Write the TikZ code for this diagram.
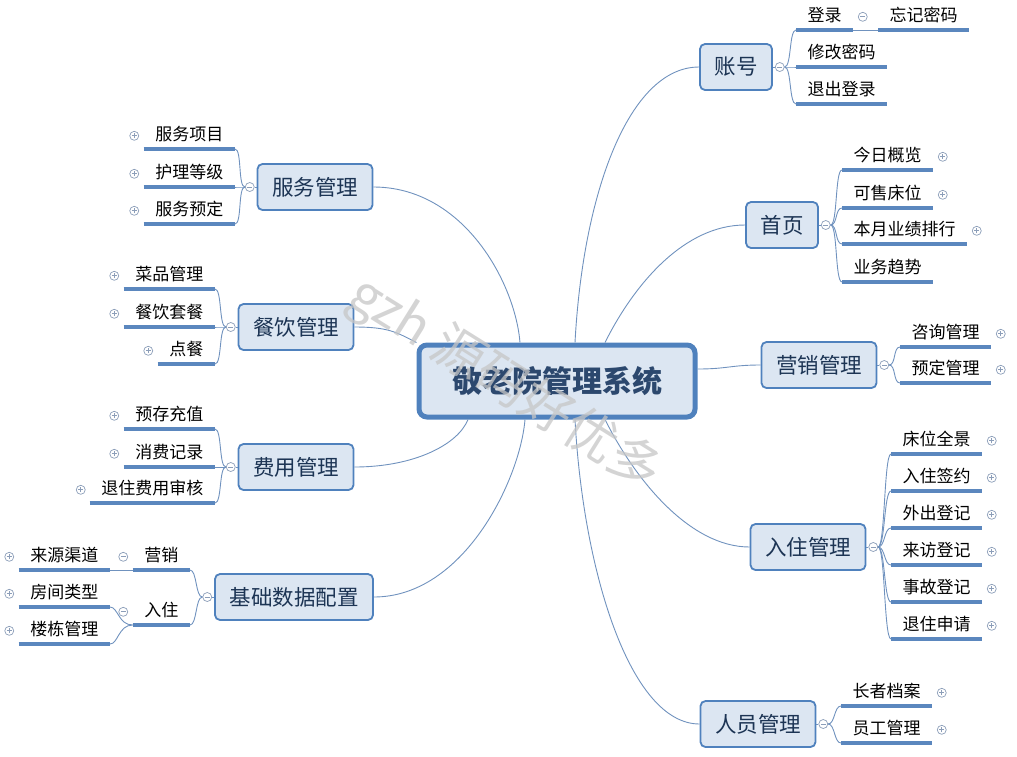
\documentclass[tikz,border=0pt]{standalone}
\usepackage{fontspec}
\newfontfamily\cjk{Noto Sans CJK SC}
\usepackage{tikz}
\usetikzlibrary{positioning}
\usepackage{xcolor}

\definecolor{boxfill}{RGB}{220,230,242}
\definecolor{boxline}{RGB}{79,129,189}
\definecolor{boxtext}{RGB}{28,52,84}
\definecolor{roottext}{RGB}{44,72,110}
\definecolor{rulec}{RGB}{91,135,190}
\definecolor{linkc}{RGB}{112,146,190}
\definecolor{foldc}{RGB}{140,158,185}

\begin{document}
\begin{tikzpicture}[x=1pt, y=-1pt,
    rootbox/.style = {rectangle, draw=boxline, fill=boxfill, line width=5pt, rounded corners=8pt, minimum width=276pt, minimum height=72pt, font=\cjk\bfseries\fontsize{30}{36}\selectfont, text=roottext},
    box/.style = {rectangle, draw=boxline, fill=boxfill, line width=1.8pt, rounded corners=5pt, minimum height=46pt, inner xsep=14.5pt, font=\cjk\fontsize{21.5}{26}\selectfont, text=boxtext},
    leaf/.style = {anchor=south west, inner xsep=11.5pt, inner ysep=5pt, text height=13pt, text depth=3pt, font=\cjk\fontsize{17}{20}\selectfont, append after command={(\tikzlastnode.south west) edge[uline] (\tikzlastnode.south east)}},
    leafl/.style = {leaf, anchor=south east},
    uline/.style = {draw=rulec, line width=3.5pt},
    conn/.style = {draw=linkc, line width=0.9pt},
    knob/.style = {circle, draw=foldc, fill=white, line width=0.7pt, minimum size=9pt, inner sep=0pt},
    fold/.style = {knob, path picture={\draw[foldc, line width=0.7pt] ([xshift=-2.4pt]path picture bounding box.center) -- ([xshift=2.4pt]path picture bounding box.center);}},
    unfold/.style = {knob, path picture={\draw[foldc, line width=0.7pt] ([xshift=-2.4pt]path picture bounding box.center) -- ([xshift=2.4pt]path picture bounding box.center) ([yshift=-2.4pt]path picture bounding box.center) -- ([yshift=2.4pt]path picture bounding box.center);}},
    wmark/.style = {font=\cjk\fontsize{52}{60}\selectfont, text=gray!45, opacity=0.75}
]
\useasboundingbox (0,0) rectangle (1017,756);

% Root Node
\node (root) [rootbox, at={(557,381)}] {敬老院管理系统};

% Branches (right)
\node (acct) [box, at={(736,67)}] {账号};
\node (home) [box, at={(782,225)}] {首页};
\node (mkt) [box, at={(819,365)}] {营销管理};
\node (stay) [box, at={(808,547)}] {入住管理};
\node (staff) [box, at={(758,724)}] {人员管理};

% Branches (left)
\node (svc) [box, at={(315,187)}] {服务管理};
\node (food) [box, at={(296,327)}] {餐饮管理};
\node (fee) [box, at={(296,467)}] {费用管理};
\node (base) [box, at={(294,597)}] {基础数据配置};

% Connections to branches
\draw [conn] ([xshift=18pt]root.north) .. controls +(8,-150) and +(-70,0) .. (acct.west);
\draw [conn] ([xshift=48pt]root.north) .. controls +(30,-60) and +(-60,0) .. (home.west);
\draw [conn] ([yshift=12pt]root.east) .. controls +(30,0) and +(-30,0) .. (mkt.west);
\draw [conn] ([xshift=48pt]root.south) .. controls +(30,60) and +(-60,0) .. (stay.west);
\draw [conn] ([xshift=18pt]root.south) .. controls +(8,150) and +(-70,0) .. (staff.west);
\draw [conn] (svc.east) .. controls +(90,0) and +(-5,-60) .. ([xshift=-37pt]root.north);
\draw [conn] (food.east) .. controls +(35,0) and +(-20,-10) .. (root.north west);
\draw [conn] (fee.east) .. controls +(60,0) and +(-10,25) .. ([xshift=-89pt]root.south);
\draw [conn] (base.east) .. controls +(90,0) and +(-5,60) .. ([xshift=-32pt]root.south);

% Fold knobs
\node (acct_k) [fold, right=2pt of acct] {};
\node (home_k) [fold, right=2pt of home] {};
\node (mkt_k) [fold, right=2pt of mkt] {};
\node (stay_k) [fold, right=2pt of stay] {};
\node (staff_k) [fold, right=2pt of staff] {};
\node (svc_k) [fold, left=2pt of svc] {};
\node (food_k) [fold, left=2pt of food] {};
\node (fee_k) [fold, left=2pt of fee] {};
\node (base_k) [fold, left=2pt of base] {};

% Account
\node (acct_a) [leaf, at={(796,30)}] {登录};
\node (acct_a_k) [fold, right=4.5pt of acct_a] {};
\node (acct_a1) [leaf, at={(878,30)}] {忘记密码};
\node (acct_b) [leaf, at={(796,67)}] {修改密码};
\node (acct_c) [leaf, at={(796,104)}] {退出登录};

% Home
\node (home_a) [leaf, at={(842,170)}] {今日概览};
\node (home_b) [leaf, at={(842,208)}] {可售床位};
\node (home_c) [leaf, at={(842,244)}] {本月业绩排行};
\node (home_d) [leaf, at={(842,282)}] {业务趋势};
\node (home_a_k) [unfold, right=4.5pt of home_a] {};
\node (home_b_k) [unfold, right=4.5pt of home_b] {};
\node (home_c_k) [unfold, right=4.5pt of home_c] {};

% Marketing
\node (mkt_a) [leaf, at={(900,347)}] {咨询管理};
\node (mkt_b) [leaf, at={(900,383)}] {预定管理};
\node (mkt_a_k) [unfold, right=4.5pt of mkt_a] {};
\node (mkt_b_k) [unfold, right=4.5pt of mkt_b] {};

% Check-in
\node (stay_a) [leaf, at={(891,454)}] {床位全景};
\node (stay_b) [leaf, at={(891,491)}] {入住签约};
\node (stay_c) [leaf, at={(891,528)}] {外出登记};
\node (stay_d) [leaf, at={(891,565)}] {来访登记};
\node (stay_e) [leaf, at={(891,602)}] {事故登记};
\node (stay_f) [leaf, at={(891,639)}] {退住申请};
\node (stay_a_k) [unfold, right=4.5pt of stay_a] {};
\node (stay_b_k) [unfold, right=4.5pt of stay_b] {};
\node (stay_c_k) [unfold, right=4.5pt of stay_c] {};
\node (stay_d_k) [unfold, right=4.5pt of stay_d] {};
\node (stay_e_k) [unfold, right=4.5pt of stay_e] {};
\node (stay_f_k) [unfold, right=4.5pt of stay_f] {};

% Staff
\node (staff_a) [leaf, at={(841,706)}] {长者档案};
\node (staff_b) [leaf, at={(841,743)}] {员工管理};
\node (staff_a_k) [unfold, right=4.5pt of staff_a] {};
\node (staff_b_k) [unfold, right=4.5pt of staff_b] {};

% Service
\node (svc_a) [leafl, at={(235,149)}] {服务项目};
\node (svc_b) [leafl, at={(235,187)}] {护理等级};
\node (svc_c) [leafl, at={(235,224)}] {服务预定};
\node (svc_a_k) [unfold, left=4.5pt of svc_a] {};
\node (svc_b_k) [unfold, left=4.5pt of svc_b] {};
\node (svc_c_k) [unfold, left=4.5pt of svc_c] {};

% Catering
\node (food_a) [leafl, at={(215,289)}] {菜品管理};
\node (food_b) [leafl, at={(215,327)}] {餐饮套餐};
\node (food_c) [leafl, at={(215,364)}] {点餐};
\node (food_a_k) [unfold, left=4.5pt of food_a] {};
\node (food_b_k) [unfold, left=4.5pt of food_b] {};
\node (food_c_k) [unfold, left=4.5pt of food_c] {};

% Fees
\node (fee_a) [leafl, at={(215,429)}] {预存充值};
\node (fee_b) [leafl, at={(215,467)}] {消费记录};
\node (fee_c) [leafl, at={(215,503)}] {退住费用审核};
\node (fee_a_k) [unfold, left=4.5pt of fee_a] {};
\node (fee_b_k) [unfold, left=4.5pt of fee_b] {};
\node (fee_c_k) [unfold, left=4pt of fee_c] {};

% Base data
\node (base_a) [leafl, at={(190,570)}] {营销};
\node (base_b) [leafl, at={(190,625)}] {入住};
\node (base_a_k) [fold, left=4.5pt of base_a] {};
\node (base_b_k) [fold, left=4.5pt of base_b] {};
\node (base_a1) [leafl, at={(110,570)}] {来源渠道};
\node (base_b1) [leafl, at={(110,607)}] {房间类型};
\node (base_b2) [leafl, at={(110,644)}] {楼栋管理};
\node (base_a1_k) [unfold, left=4.5pt of base_a1] {};
\node (base_b1_k) [unfold, left=4.5pt of base_b1] {};
\node (base_b2_k) [unfold, left=4.5pt of base_b2] {};

% Knob links
\draw [conn] (acct) -- (acct_k);
\draw [conn] (home) -- (home_k);
\draw [conn] (mkt) -- (mkt_k);
\draw [conn] (stay) -- (stay_k);
\draw [conn] (staff) -- (staff_k);
\draw [conn] (svc) -- (svc_k);
\draw [conn] (food) -- (food_k);
\draw [conn] (fee) -- (fee_k);
\draw [conn] (base) -- (base_k);

% Leaf braces (right)
\draw [conn] (acct_k.east) .. controls +(7,0) and +(-7,0) .. (acct_a.south west);
\draw [conn] (acct_k.east) .. controls +(7,0) and +(-7,0) .. (acct_b.south west);
\draw [conn] (acct_k.east) .. controls +(7,0) and +(-7,0) .. (acct_c.south west);
\draw [conn] (acct_a.south east) -- (acct_a1.south west);

\draw [conn] (home_k.east) .. controls +(7,0) and +(-7,0) .. (home_a.south west);
\draw [conn] (home_k.east) .. controls +(7,0) and +(-7,0) .. (home_b.south west);
\draw [conn] (home_k.east) .. controls +(7,0) and +(-7,0) .. (home_c.south west);
\draw [conn] (home_k.east) .. controls +(7,0) and +(-7,0) .. (home_d.south west);

\draw [conn] (mkt_k.east) .. controls +(7,0) and +(-7,0) .. (mkt_a.south west);
\draw [conn] (mkt_k.east) .. controls +(7,0) and +(-7,0) .. (mkt_b.south west);

\draw [conn] (stay_k.east) .. controls +(7,0) and +(-7,0) .. (stay_a.south west);
\draw [conn] (stay_k.east) .. controls +(7,0) and +(-7,0) .. (stay_b.south west);
\draw [conn] (stay_k.east) .. controls +(7,0) and +(-7,0) .. (stay_c.south west);
\draw [conn] (stay_k.east) .. controls +(7,0) and +(-7,0) .. (stay_d.south west);
\draw [conn] (stay_k.east) .. controls +(7,0) and +(-7,0) .. (stay_e.south west);
\draw [conn] (stay_k.east) .. controls +(7,0) and +(-7,0) .. (stay_f.south west);

\draw [conn] (staff_k.east) .. controls +(7,0) and +(-7,0) .. (staff_a.south west);
\draw [conn] (staff_k.east) .. controls +(7,0) and +(-7,0) .. (staff_b.south west);

% Leaf braces (left)
\draw [conn] (svc_k.west) .. controls +(-7,0) and +(7,0) .. (svc_a.south east);
\draw [conn] (svc_k.west) .. controls +(-7,0) and +(7,0) .. (svc_b.south east);
\draw [conn] (svc_k.west) .. controls +(-7,0) and +(7,0) .. (svc_c.south east);

\draw [conn] (food_k.west) .. controls +(-7,0) and +(7,0) .. (food_a.south east);
\draw [conn] (food_k.west) .. controls +(-7,0) and +(7,0) .. (food_b.south east);
\draw [conn] (food_k.west) .. controls +(-7,0) and +(7,0) .. (food_c.south east);

\draw [conn] (fee_k.west) .. controls +(-7,0) and +(7,0) .. (fee_a.south east);
\draw [conn] (fee_k.west) .. controls +(-7,0) and +(7,0) .. (fee_b.south east);
\draw [conn] (fee_k.west) .. controls +(-7,0) and +(7,0) .. (fee_c.south east);

\draw [conn] (base_k.west) .. controls +(-7,0) and +(7,0) .. (base_a.south east);
\draw [conn] (base_k.west) .. controls +(-7,0) and +(7,0) .. (base_b.south east);
\draw [conn] (base_a.south west) -- (base_a1.south east);
\draw [conn] (base_b.south west) .. controls +(-14,0) and +(8,0) .. (base_b1.south east);
\draw [conn] (base_b.south west) .. controls +(-14,0) and +(8,0) .. (base_b2.south east);

% Watermark
\node (mark) [wmark, at={(505,385)}, rotate=-32] {gzh 源码好优多};

\end{tikzpicture}
\end{document}
